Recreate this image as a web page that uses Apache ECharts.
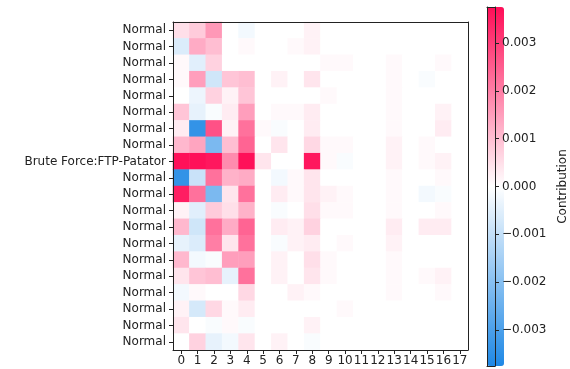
<!DOCTYPE html>
<html>
<head>
<meta charset="UTF-8">
<script type="text/javascript" src="https://cdn.jsdelivr.net/npm/echarts@6/dist/echarts.min.js"></script>
<title>Contribution heatmap</title>
<style>
	html, body { margin: 0; padding: 0; background: #fff; }
	#main { width: 570px; height: 369px; }
</style>
</head>
<body>
<div id="main"></div>
<script type="text/javascript">
	var rowLabels = ["Normal", "Normal", "Normal", "Normal", "Normal", "Normal", "Normal", "Normal",
		"Brute Force:FTP-Patator", "Normal", "Normal", "Normal", "Normal", "Normal", "Normal",
		"Normal", "Normal", "Normal", "Normal", "Normal"];
	var colLabels = ["0", "1", "2", "3", "4", "5", "6", "7", "8", "9", "10", "11", "12", "13", "14", "15", "16", "17"];
	var barTicks = [-0.003, -0.002, -0.001, 0, 0.001, 0.002, 0.003];
	var valueMin = -0.00375;
	var valueMax = 0.00375;

	// one row per sample, one value per feature column
	var contrib = [
		[0.0005, 0.0008, 0.0016, 0, -0.0002, 0, 0, 0, 0.0002, 0, 0, 0, 0, 0, 0, 0, 0, 0],
		[-0.0006, 0.0013, 0.001, 0, 0.0001, 0, 0, 0.0001, 0.0002, 0, 0, 0, 0, 0, 0, 0, 0, 0],
		[0.0001, -0.0005, 0.0007, 0, 0, 0, 0, 0, 0, 0.0001, 0.0001, 0, 0, 0.0001, 0, 0, 0.0001, 0],
		[0.0001, 0.0015, -0.0008, 0.0009, 0.001, 0, 0.0002, 0, 0.0004, 0, 0, 0, 0, 0.0001, 0, -0.0001, 0, 0],
		[0, -0.0003, 0.0007, 0.0002, 0.0009, 0, 0, 0, 0, 0.0001, 0, 0, 0, 0.0001, 0, 0, 0, 0],
		[0.0009, -0.0004, -0.0001, 0.0003, 0.0015, 0, 0.0001, 0.0001, 0.0003, 0, 0, 0, 0, 0.0001, 0, 0, 0.0002, 0],
		[0.0003, -0.0034, 0.0027, 0.0002, 0.0022, 0.0001, -0.0001, 0, 0.0003, 0, 0, 0, 0, 0.0001, 0, 0, 0.0003, 0],
		[0.0011, 0.0014, -0.0022, 0.001, 0.0024, 0, 0.0004, 0, 0.0006, 0.0001, 0.0001, 0, 0, 0.0002, 0, 0.0001, 0, 0],
		[0.0037, 0.0037, 0.0036, 0.0018, 0.0037, 0.0004, 0, 0, 0.0036, 0.0001, -0.0001, 0, 0, 0.0002, 0, 0.0001, 0.0002, 0],
		[-0.0034, -0.0009, 0.0022, 0.0012, 0.0013, 0, -0.0002, 0.0001, 0.0004, 0, 0, 0, 0, 0.0001, 0, 0, 0.0001, 0],
		[0.0035, 0.0022, -0.0022, 0.0004, 0.0022, 0, 0.0003, 0.0001, 0.0004, 0.0002, 0.0001, 0, 0, 0.0001, 0, -0.0002, -0.0001, 0],
		[0.0002, -0.0005, 0.0008, 0.0005, 0.0012, 0, -0.0001, 0, 0.0005, 0.0001, 0.0001, 0, 0, 0.0001, 0, 0, 0.0001, 0],
		[0.0011, -0.0008, 0.0022, 0.0013, 0.0024, 0, 0.0003, 0.0002, 0.0007, 0, 0, 0, 0, 0.0003, 0, 0.0003, 0.0003, 0],
		[-0.0004, -0.0006, 0.002, 0.0004, 0.0022, 0, -0.0001, 0.0002, 0.0003, 0, 0.0001, 0, 0, 0.0002, 0, 0, 0, 0],
		[0.0011, -0.0002, -0.0001, 0.0015, 0.0015, 0, 0.0002, 0, 0.0005, 0.0001, 0, 0, 0, 0.0001, 0, 0, 0, 0],
		[0.0004, 0.0009, 0.001, -0.0004, 0.0022, 0, 0.0002, 0, 0.0004, 0.0001, 0, 0, 0, 0.0001, 0, 0.0001, 0.0002, 0],
		[-0.0002, 0.0001, 0, 0, 0.0006, 0, 0, 0.0002, 0.0001, 0, 0, 0, 0, 0.0001, 0, 0, 0.0001, 0],
		[0.0002, -0.0007, 0.0006, 0.0001, 0.0003, 0, 0, 0, 0, 0, 0.0001, 0, 0, 0, 0, 0, 0, 0],
		[0.0004, 0, -0.0001, 0.0001, -0.0001, 0, 0, 0, 0.0002, 0, 0, 0, 0, 0, 0, 0, 0, 0],
		[0, 0.0007, -0.0004, -0.0002, 0.0004, 0, 0.0002, 0, -0.0001, 0, 0, 0, 0, 0, 0, 0, 0, 0]
	];

	var cells = [];
	for (var r = 0; r < contrib.length; r++) {
		for (var c = 0; c < contrib[r].length; c++) {
			cells.push([c, r, contrib[r][c]]);
		}
	}

	var font = "DejaVu Sans";
	var ink = "#222";
	var rowIds = rowLabels.map(function (_, i) { return String(i); });

	// axis that only draws a frame edge, drawn above the cells / colour bar
	function edge(type, gridIndex, position, data, extra) {
		var a = {
			type: type,
			gridIndex: gridIndex,
			position: position,
			z: 10,
			axisLine: { show: true, onZero: false, lineStyle: { color: ink, width: 1 } },
			axisTick: { show: false },
			axisLabel: { show: false },
			splitLine: { show: false }
		};
		if (data) a.data = data;
		for (var k in extra) a[k] = extra[k];
		return a;
	}

	var option = {
		backgroundColor: "#fff",
		animation: false,
		textStyle: { fontFamily: font },
		grid: [
			{ left: 173, top: 22, width: 295, height: 328 },
			{ left: 487, top: 7, width: 17, height: 359 }
		],
		xAxis: [
			{
				type: "category",
				gridIndex: 0,
				position: "bottom",
				z: 10,
				data: colLabels,
				axisLine: { show: true, onZero: false, lineStyle: { color: ink, width: 1 } },
				axisTick: { show: true, alignWithLabel: true, length: 4, lineStyle: { color: ink, width: 1 } },
				axisLabel: { color: ink, fontSize: 12, margin: 5, interval: 0 },
				splitLine: { show: false }
			},
			edge("category", 0, "top", colLabels),
			edge("value", 1, "bottom", null, { min: 0, max: 1 }),
			edge("value", 1, "top", null, { min: 0, max: 1 })
		],
		yAxis: [
			{
				type: "category",
				gridIndex: 0,
				position: "left",
				z: 10,
				inverse: true,
				data: rowIds,
				axisLine: { show: true, onZero: false, lineStyle: { color: ink, width: 1 } },
				axisTick: { show: true, alignWithLabel: true, length: 4, lineStyle: { color: ink, width: 1 } },
				axisLabel: {
					color: ink, fontSize: 12, margin: 7, interval: 0,
					formatter: function (v, i) { return rowLabels[i]; }
				},
				splitLine: { show: false }
			},
			edge("category", 0, "right", rowIds, { inverse: true }),
			{
				type: "value",
				gridIndex: 1,
				position: "right",
				z: 10,
				min: valueMin,
				max: valueMax,
				name: "Contribution",
				nameLocation: "middle",
				nameRotate: 90,
				nameGap: 62,
				nameTextStyle: { color: ink, fontSize: 12, fontFamily: font },
				axisLine: { show: true, onZero: false, lineStyle: { color: ink, width: 1 } },
				axisTick: { show: true, length: 4, inside: false, lineStyle: { color: ink, width: 1 }, customValues: barTicks },
				axisLabel: {
					color: ink, fontSize: 12, margin: 7, customValues: barTicks,
					formatter: function (v) {
						var s = Math.abs(v).toFixed(3);
						return v < -1e-9 ? "\u2212" + s : s;
					}
				},
				splitLine: { show: false }
			},
			edge("value", 1, "left", null, { min: valueMin, max: valueMax })
		],
		visualMap: {
			type: "continuous",
			min: valueMin,
			max: valueMax,
			seriesIndex: 0,
			calculable: false,
			orient: "vertical",
			left: 487,
			top: 7,
			z: 2,
			itemWidth: 17,
			itemHeight: 359,
			padding: 0,
			text: null,
			showLabel: false,
			inRange: { color: ["#1E88E5", "#ffffff", "#FF0D57"] }
		},
		series: [
			{
				type: "heatmap",
				xAxisIndex: 0,
				yAxisIndex: 0,
				data: cells,
				itemStyle: { borderWidth: 0 },
				emphasis: { disabled: true }
			},
			{
				type: "scatter",
				xAxisIndex: 2,
				yAxisIndex: 2,
				data: [],
				silent: true
			}
		]
	};

	var myChart = echarts.init(document.getElementById("main"), null, { renderer: "canvas" });
	myChart.setOption(option);
</script>
</body>
</html>
